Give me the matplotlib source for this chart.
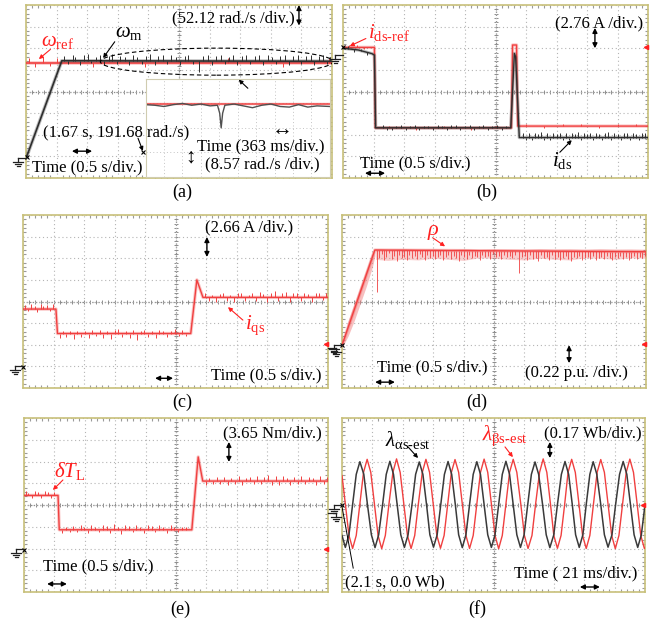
import numpy as np
import matplotlib
matplotlib.use('Agg')
import matplotlib.pyplot as plt
from matplotlib.patches import Ellipse
from matplotlib.lines import Line2D

plt.rcParams['font.family'] = ['Liberation Serif', 'DejaVu Sans']
plt.rcParams['mathtext.fontset'] = 'custom'
plt.rcParams['mathtext.rm'] = 'Liberation Serif'
plt.rcParams['mathtext.it'] = 'Liberation Serif:italic'
plt.rcParams['mathtext.bf'] = 'Liberation Serif:bold'

W, H = 668, 624
RED = '#ff2020'
TR_RED = '#f04040'
TR_BLK = '#2e2e2e'
FRAME = '#c8c07a'

# ---- scope readings, in screen divisions (10 x 8) ----

# (a) speed
speed_ref_t = [0.0, 10.0]
speed_ref = [5.33, 5.33]
speed_t = [0.02, 1.17, 10.0]
speed = [0.98, 5.42, 5.40]
speed_spikes = [(1.25, 0.22), (1.38, -0.15), (1.52, 0.28), (1.61, 0.18), (1.77, -0.2), (1.9, 0.25),
                (2.02, 0.3), (2.13, -0.12), (2.3, 0.2), (2.41, 0.27), (2.55, -0.18), (2.7, 0.22),
                (2.82, 0.3), (2.97, -0.15), (3.08, 0.24), (3.22, 0.2), (3.37, -0.2), (3.5, 0.28),
                (3.63, 0.18), (3.8, -0.15), (3.93, 0.25), (4.06, 0.3), (4.2, -0.2), (4.33, 0.22),
                (4.47, 0.26), (4.6, -0.12), (4.75, 0.28), (4.9, 0.2), (5.02, -0.18), (5.18, 0.25),
                (5.3, 0.3), (5.45, -0.15), (5.66, -0.5), (5.8, 0.22), (5.95, 0.27), (6.08, -0.2),
                (6.22, 0.24), (6.37, 0.3), (6.5, -0.15), (6.63, 0.2), (6.78, 0.28), (6.9, -0.18),
                (7.05, 0.25), (7.2, 0.3), (7.33, -0.12), (7.48, 0.22), (7.62, 0.27), (7.76, -0.2),
                (7.9, 0.3), (8.03, 0.2), (8.17, -0.15), (8.3, 0.26), (8.45, 0.3), (8.6, -0.2),
                (8.73, 0.22), (8.88, 0.28), (9.0, -0.15), (9.15, 0.25), (9.3, 0.3), (9.42, -0.18),
                (9.57, 0.22), (9.7, 0.28), (9.85, -0.15), (9.95, 0.2)]
speed_ref_spikes = [(0.1, 0.2), (0.3, -0.2), (0.55, 0.25), (0.8, -0.15), (1.0, 0.2),
                    (2.2, -0.2), (3.9, -0.2), (6.6, 0.2), (8.4, -0.18), (9.9, 0.2)]
# zoomed window (363 ms/div.)
zoom_t = [0.0, 0.5, 1.0, 1.5, 2.0, 2.5, 3.0, 3.5, 3.9, 4.02, 4.1, 4.18, 4.3, 4.8, 5.3,
          5.8, 6.3, 6.8, 7.3, 7.8, 8.3, 8.8, 9.3, 10.0]
zoom_speed = [5.9, 5.85, 5.75, 5.9, 6.0, 5.85, 5.95, 5.8, 5.85, 5.2, 4.0, 5.2, 5.85, 5.95,
              5.8, 5.65, 5.85, 5.95, 5.75, 5.7, 5.9, 5.7, 5.8, 5.75]
zoom_ref = [5.95, 5.95]

# (b) d-axis current
ids_ref_t = [0.0, 1.03, 1.06, 5.52, 5.56, 5.69, 5.73, 10.0]
ids_ref = [6.04, 6.04, 2.32, 2.32, 6.15, 6.15, 2.40, 2.40]
ids_t = [0.0, 0.5, 0.95, 1.03, 1.07, 5.50, 5.62, 5.66, 5.78, 10.0]
ids = [6.00, 5.92, 5.75, 5.68, 2.32, 2.32, 5.76, 5.60, 1.87, 1.87]
ids_spikes = [(0.15, 0.12), (0.35, -0.1), (0.6, 0.1), (0.8, -0.12), (1.3, 0.12), (1.45, -0.08),
              (1.6, -0.1), (1.75, 0.1), (1.9, 0.12), (2.05, -0.08), (2.2, 0.1), (2.35, 0.12),
              (2.5, -0.12), (2.65, 0.08), (2.8, 0.1), (2.95, -0.1), (3.1, 0.12), (3.25, 0.1),
              (3.4, -0.1), (3.55, 0.12), (3.7, 0.12), (3.85, -0.08), (4.0, 0.1), (4.15, 0.12),
              (4.3, -0.1), (4.45, 0.1), (4.6, 0.14), (4.75, -0.1), (4.9, 0.1), (5.05, 0.12),
              (5.2, -0.1), (5.35, 0.1),
              (5.9, 0.22), (6.0, -0.1), (6.1, 0.2), (6.2, -0.12), (6.3, 0.2), (6.4, 0.15),
              (6.5, 0.24), (6.6, -0.1), (6.7, 0.2), (6.8, -0.1), (6.9, 0.2), (7.0, 0.15),
              (7.1, 0.22), (7.2, -0.1), (7.3, 0.2), (7.4, -0.12), (7.5, 0.2), (7.6, 0.15),
              (7.7, 0.25), (7.8, -0.1), (7.9, 0.22), (8.0, 0.15), (8.1, 0.22), (8.2, -0.1),
              (8.3, 0.2), (8.4, 0.15), (8.5, -0.12), (8.6, 0.2), (8.7, 0.24), (8.8, -0.1),
              (8.9, 0.2), (9.0, 0.15), (9.1, -0.1), (9.2, 0.2), (9.3, 0.22), (9.4, -0.1),
              (9.5, 0.2), (9.6, 0.15), (9.7, -0.12), (9.8, 0.2), (9.9, 0.2)]
ids_ref_spikes = [(0.2, 0.1), (0.45, 0.12), (0.7, -0.08), (1.5, 0.1), (2.4, -0.08), (3.3, 0.1),
                  (4.2, -0.08), (5.0, 0.1), (6.0, 0.1), (6.6, -0.08), (7.2, 0.1), (7.8, 0.12),
                  (8.4, -0.08), (9.0, 0.1), (9.6, 0.1)]

# (c) q-axis current
iqs_t = [0.0, 1.08, 1.13, 5.50, 5.70, 5.90, 10.0]
iqs = [3.65, 3.65, 2.52, 2.52, 5.00, 4.19, 4.19]
iqs_spikes = [(0.06, 0.18), (0.17, -0.1), (0.26, 0.22), (0.38, 0.15), (0.47, -0.12), (0.58, 0.25),
              (0.66, 0.12), (0.78, 0.2), (0.88, -0.1), (0.98, 0.22),
              (1.2, -0.22), (1.32, 0.1), (1.41, -0.15), (1.55, 0.12), (1.66, -0.25), (1.78, 0.1),
              (1.9, -0.18), (2.02, 0.12), (2.15, -0.2), (2.26, 0.15), (2.4, -0.12), (2.52, 0.18),
              (2.63, -0.2), (2.77, 0.1), (2.9, -0.25), (3.02, 0.15), (3.13, 0.22), (3.26, -0.18),
              (3.38, 0.12), (3.5, -0.22), (3.61, 0.15), (3.74, -0.28), (3.86, 0.12), (3.98, 0.18),
              (4.1, -0.15), (4.22, 0.12), (4.35, -0.2), (4.47, 0.15), (4.6, 0.1), (4.72, -0.18),
              (4.85, 0.12), (4.97, 0.2), (5.1, -0.12), (5.22, 0.15), (5.35, -0.1),
              (5.98, 0.2), (6.1, -0.18), (6.2, 0.12), (6.33, -0.22), (6.45, 0.15), (6.56, 0.2),
              (6.68, -0.15), (6.8, 0.12), (6.92, -0.2), (7.04, 0.18), (7.15, 0.22), (7.28, -0.15),
              (7.4, 0.12), (7.52, 0.2), (7.64, -0.18), (7.76, 0.25), (7.88, 0.15), (8.0, -0.2),
              (8.12, 0.22), (8.25, 0.3), (8.37, -0.15), (8.5, 0.2), (8.62, 0.25), (8.74, -0.2),
              (8.86, 0.18), (8.98, 0.22), (9.1, -0.15), (9.22, 0.2), (9.35, 0.15), (9.47, -0.2),
              (9.6, 0.22), (9.72, 0.18), (9.84, -0.12), (9.95, 0.2)]

# (d) rho
rho_t = [0.0, 1.08, 10.0]
rho = [1.98, 6.38, 6.30]
rho_ramp_t = [0.0, 0.2, 0.4, 0.6, 0.8, 1.0, 1.08]
rho_ramp_lo = [1.85, 2.40, 3.10, 3.90, 4.70, 5.60, 6.10]
rho_ramp_hi = [2.10, 3.10, 3.90, 4.70, 5.50, 6.30, 6.45]
rho_band_t = [1.1, 1.5, 2.0, 2.5, 3.0, 3.5, 4.0, 4.5, 5.0, 5.5, 6.0, 6.5, 7.0, 7.5, 8.0, 8.5,
              9.0, 9.5, 10.0]
rho_band_lo = [5.95, 5.90, 5.95, 5.92, 6.00, 5.95, 5.90, 6.02, 6.00, 5.95, 5.92, 6.00, 5.95,
               5.92, 6.02, 6.00, 5.95, 6.02, 6.00]
rho_band_hi = [6.45, 6.42, 6.45, 6.43, 6.44, 6.42, 6.45, 6.42, 6.44, 6.43, 6.42, 6.45, 6.43,
               6.44, 6.42, 6.45, 6.43, 6.44, 6.42]
rho_spikes = [(1.14, -1.95), (1.22, -0.35), (1.3, -0.2), (1.38, -0.45), (1.46, -0.3), (1.55, -0.15),
              (1.63, -0.4), (1.71, -0.25), (1.8, -0.5), (1.88, -0.2), (1.96, -0.35), (2.05, -0.3),
              (2.13, -0.45), (2.22, -0.2), (2.3, -0.35), (2.39, -0.25), (2.47, -0.4), (2.56, -0.15),
              (2.64, -0.3), (2.73, -0.45), (2.81, -0.2), (2.9, -0.35), (2.98, -0.25), (3.07, -0.4),
              (3.15, -0.3), (3.24, -0.2), (3.32, -0.45), (3.41, -0.3), (3.5, -0.2), (3.58, -0.4),
              (3.67, -0.25), (3.75, -0.35), (3.84, -0.5), (3.92, -0.2), (4.01, -0.3), (4.1, -0.4),
              (4.18, -0.2), (4.27, -0.35), (4.36, -0.25), (4.45, -0.3), (4.53, -0.45), (4.62, -0.2),
              (4.71, -0.3), (4.8, -0.25), (4.88, -0.4), (4.97, -0.15), (5.06, -0.3), (5.15, -0.25),
              (5.24, -0.4), (5.33, -0.2), (5.42, -0.3), (5.51, -0.25), (5.6, -0.35), (5.7, -0.2),
              (5.83, -1.0), (5.92, -0.3), (6.01, -0.25), (6.1, -0.4), (6.19, -0.2), (6.28, -0.35),
              (6.37, -0.3), (6.46, -0.45), (6.55, -0.2), (6.64, -0.3), (6.73, -0.25), (6.82, -0.4),
              (6.91, -0.2), (7.0, -0.35), (7.09, -0.25), (7.18, -0.4), (7.27, -0.3), (7.36, -0.2),
              (7.45, -0.35), (7.54, -0.45), (7.63, -0.25), (7.72, -0.3), (7.81, -0.2), (7.9, -0.4),
              (7.99, -0.3), (8.08, -0.25), (8.17, -0.35), (8.26, -0.2), (8.35, -0.4), (8.44, -0.3),
              (8.53, -0.25), (8.62, -0.35), (8.71, -0.2), (8.8, -0.3), (8.89, -0.4), (8.98, -0.25),
              (9.07, -0.3), (9.16, -0.2), (9.25, -0.35), (9.34, -0.25), (9.43, -0.4), (9.52, -0.3),
              (9.61, -0.2), (9.7, -0.35), (9.79, -0.25), (9.88, -0.3), (9.96, -0.2)]

# (e) load torque estimate
dtl_t = [0.0, 1.12, 1.16, 5.52, 5.73, 5.88, 10.0]
dtl = [4.44, 4.44, 2.86, 2.86, 6.21, 5.10, 5.10]
dtl_spikes = [(0.05, 0.2), (0.14, 0.12), (0.25, -0.12), (0.36, 0.22), (0.45, 0.15), (0.57, -0.1),
              (0.68, 0.2), (0.79, 0.15), (0.9, -0.12), (1.0, 0.18),
              (1.25, -0.15), (1.37, 0.12), (1.5, -0.1), (1.62, 0.18), (1.73, -0.12), (1.86, 0.2),
              (1.97, 0.12), (2.1, -0.15), (2.22, 0.2), (2.35, 0.15), (2.47, -0.12), (2.6, 0.22),
              (2.72, 0.18), (2.84, -0.15), (2.96, 0.25), (3.08, 0.15), (3.2, -0.18), (3.33, 0.22),
              (3.45, 0.18), (3.57, -0.12), (3.7, 0.2), (3.82, 0.15), (3.95, -0.15), (4.07, 0.22),
              (4.2, 0.18), (4.32, -0.12), (4.45, 0.2), (4.58, 0.15), (4.7, -0.15), (4.83, 0.22),
              (4.95, 0.12), (5.08, -0.1), (5.2, 0.15), (5.33, 0.12),
              (5.98, -0.2), (6.1, 0.15), (6.22, -0.15), (6.34, 0.2), (6.46, -0.12), (6.58, 0.18),
              (6.7, -0.2), (6.82, 0.12), (6.94, -0.15), (7.06, 0.22), (7.18, -0.18), (7.3, 0.15),
              (7.42, 0.2), (7.55, -0.15), (7.67, 0.25), (7.79, -0.12), (7.91, 0.2), (8.03, 0.28),
              (8.15, -0.18), (8.28, 0.25), (8.4, -0.2), (8.52, 0.22), (8.64, 0.15), (8.76, -0.2),
              (8.88, 0.2), (9.0, -0.15), (9.12, 0.22), (9.25, -0.12), (9.37, 0.2), (9.5, 0.15),
              (9.62, -0.18), (9.74, 0.22), (9.86, -0.12), (9.96, 0.18)]

# (f) estimated stator flux, alpha / beta
flux_alpha = [(0.00, 2.60), (0.11, 2.05), (0.23, 2.63), (0.35, 4.02), (0.47, 5.41), (0.59, 5.99),
              (0.72, 5.41), (0.84, 4.02), (0.97, 2.63), (1.09, 2.04), (1.21, 2.63), (1.34, 4.02),
              (1.46, 5.41), (1.58, 6.01), (1.70, 5.41), (1.82, 4.02), (1.94, 2.63), (2.06, 2.05),
              (2.18, 2.63), (2.31, 4.02), (2.43, 5.41), (2.55, 5.98), (2.67, 5.41), (2.79, 4.02),
              (2.90, 2.63), (3.02, 2.06), (3.14, 2.63), (3.26, 4.02), (3.38, 5.41), (3.50, 6.00),
              (3.62, 5.41), (3.74, 4.02), (3.85, 2.63), (3.97, 2.04), (4.09, 2.63), (4.21, 4.02),
              (4.33, 5.41), (4.45, 5.99), (4.57, 5.41), (4.69, 4.02), (4.81, 2.63), (4.93, 2.05),
              (5.05, 2.63), (5.17, 4.02), (5.29, 5.41), (5.41, 6.01), (5.53, 5.41), (5.65, 4.02),
              (5.77, 2.63), (5.89, 2.05), (6.01, 2.63), (6.13, 4.02), (6.25, 5.41), (6.37, 5.98),
              (6.49, 5.41), (6.62, 4.02), (6.74, 2.63), (6.86, 2.04), (6.99, 2.63), (7.11, 4.02),
              (7.24, 5.41), (7.36, 6.00), (7.48, 5.41), (7.60, 4.02), (7.71, 2.63), (7.83, 2.05),
              (7.95, 2.63), (8.06, 4.02), (8.18, 5.41), (8.29, 5.99), (8.41, 5.41), (8.54, 4.02),
              (8.66, 2.63), (8.78, 2.06), (8.91, 2.63), (9.03, 4.02), (9.16, 5.41), (9.28, 6.00),
              (9.40, 5.41), (9.52, 4.02), (9.64, 2.63), (9.76, 2.05), (9.88, 2.63), (10.00, 4.02)]
flux_beta = [(0.00, 5.35), (0.11, 4.05), (0.23, 2.60), (0.35, 2.00), (0.47, 2.60), (0.59, 4.05),
             (0.71, 5.50), (0.83, 6.10), (0.95, 5.50), (1.07, 4.05), (1.19, 2.60), (1.31, 1.99),
             (1.43, 2.60), (1.55, 4.05), (1.68, 5.50), (1.80, 6.12), (1.92, 5.50), (2.04, 4.05),
             (2.16, 2.60), (2.28, 2.00), (2.40, 2.60), (2.52, 4.05), (2.65, 5.50), (2.77, 6.10),
             (2.89, 5.50), (3.01, 4.05), (3.13, 2.60), (3.25, 2.01), (3.37, 2.60), (3.49, 4.05),
             (3.61, 5.50), (3.73, 6.09), (3.85, 5.50), (3.97, 4.05), (4.09, 2.60), (4.21, 2.00),
             (4.33, 2.60), (4.45, 4.05), (4.57, 5.50), (4.69, 6.11), (4.81, 5.50), (4.93, 4.05),
             (5.05, 2.60), (5.17, 1.99), (5.29, 2.60), (5.41, 4.05), (5.53, 5.50), (5.65, 6.10),
             (5.77, 5.50), (5.90, 4.05), (6.02, 2.60), (6.14, 2.00), (6.27, 2.60), (6.39, 4.05),
             (6.52, 5.50), (6.64, 6.12), (6.76, 5.50), (6.88, 4.05), (6.99, 2.60), (7.11, 2.01),
             (7.23, 2.60), (7.35, 4.05), (7.46, 5.50), (7.58, 6.10), (7.70, 5.50), (7.82, 4.05),
             (7.94, 2.60), (8.06, 2.00), (8.18, 2.60), (8.30, 4.05), (8.42, 5.50), (8.54, 6.09),
             (8.66, 5.50), (8.78, 4.05), (8.90, 2.60), (9.02, 1.99), (9.14, 2.60), (9.26, 4.05),
             (9.38, 5.50), (9.50, 6.11), (9.62, 5.50), (9.74, 4.05), (9.86, 2.60), (9.98, 2.00),
             (10.00, 2.01)]


def scope_axes(fig, rect):
    ax = fig.add_axes(rect)
    ax.set_xlim(0, 10)
    ax.set_ylim(0, 8)
    ax.set_xticks(range(11))
    ax.set_yticks(range(9))
    ax.set_xticks(np.arange(0, 10.01, 0.2), minor=True)
    ax.set_yticks(np.arange(0, 8.01, 0.2), minor=True)
    ax.tick_params(which='both', direction='in', top=True, right=True,
                   labelbottom=False, labelleft=False, color='#9a9a9a')
    ax.tick_params(which='major', length=0)
    ax.tick_params(which='minor', length=2.2, width=0.8)
    ax.grid(True, which='major', ls=(0, (1, 2.5)), color='#b4b4b4', lw=0.8)
    for s in ax.spines.values():
        s.set_color(FRAME)
        s.set_linewidth(1.2)
    # centre cross with its fine graduation
    ax.axvline(5, color='#8c8c8c', lw=0.9, ls=(0, (1, 1.5)), zorder=1)
    ax.axhline(4, color='#8c8c8c', lw=0.9, ls=(0, (1, 1.5)), zorder=1)
    gx = np.arange(0.2, 10, 0.2)
    gy = np.arange(0.2, 8, 0.2)
    ax.plot(gx, np.full(gx.size, 4.0), '|', color='#8c8c8c', ms=3.2, mew=0.7, zorder=1)
    ax.plot(np.full(gy.size, 5.0), gy, '_', color='#8c8c8c', ms=3.2, mew=0.7, zorder=1)
    return ax


def trace(ax, t, y, color, lw=1.0, spikes=None, zorder=3, spike_lw=0.7):
    ax.plot(t, y, color=color, lw=lw + 1.4, alpha=0.3, zorder=zorder, solid_capstyle='butt')
    ax.plot(t, y, color=color, lw=lw, zorder=zorder)
    if spikes:
        st, sd = zip(*spikes)
        base = np.interp(st, t, y)
        ax.vlines(st, base, base + np.array(sd), color=color, lw=spike_lw, zorder=zorder)


def note(ax, x, y, s, ha='left', color='k', size=12, zorder=7):
    ax.text(x, y, s, ha=ha, va='center', color=color, fontsize=size, zorder=zorder)


def span(ax, x0, y0, x1, y1):
    ax.annotate('', xy=(x1, y1), xytext=(x0, y0), annotation_clip=False, zorder=7,
                arrowprops=dict(arrowstyle='<|-|>', color='k', lw=1.0, mutation_scale=7,
                                shrinkA=0, shrinkB=0))


def pointer(ax, x0, y0, x1, y1, color='k'):
    ax.annotate('', xy=(x1, y1), xytext=(x0, y0), annotation_clip=False, zorder=7,
                arrowprops=dict(arrowstyle='-|>', color=color, lw=0.8, mutation_scale=6,
                                shrinkA=0, shrinkB=0))


def ground(fig, px, py, flip=False):
    # probe ground mark, given in pixel position of the figure
    s = -1 if flip else 1
    segs = [((px, px + s * 8), (py, py)), ((px, px), (py, py + 4)),
            ((px - 5, px + 5), (py + 4, py + 4)), ((px - 3.3, px + 3.3), (py + 6, py + 6)),
            ((px - 1.5, px + 1.5), (py + 8, py + 8))]
    for xs, ys in segs:
        fig.add_artist(Line2D([x / W for x in xs], [1 - y / H for y in ys],
                              color='#202020', lw=0.9))


def level_mark(ax, y):
    ax.plot(9.93, y, marker='<', color=RED, ms=3, zorder=6, clip_on=False)


fig = plt.figure(figsize=(W / 100, H / 100), dpi=100)

# ---------------- (a) ----------------
ax = scope_axes(fig, [26 / W, 1 - 178 / H, 306 / W, 173 / H])
trace(ax, speed_ref_t, speed_ref, TR_RED, lw=1.2, spikes=speed_ref_spikes)
trace(ax, speed_t, speed, TR_BLK, lw=1.2, spikes=speed_spikes, zorder=4)
ax.add_patch(Ellipse((6.23, 5.38), 7.6, 1.25, fill=False, ls=(0, (4, 2.5)), lw=0.8,
                     color='k', zorder=5))
ins = ax.inset_axes([0.391, 0.008, 0.602, 0.564])
ins.set_xlim(0, 10)
ins.set_ylim(0, 8)
ins.set_xticks(range(11))
ins.set_yticks(range(0, 9, 2))
ins.tick_params(length=0, labelbottom=False, labelleft=False)
ins.grid(True, ls=(0, (1, 2.5)), color='#c4c4c4', lw=0.7)
for s in ins.spines.values():
    s.set_color('#d0ccb0')
ins.plot([0, 10], zoom_ref, color=TR_RED, lw=1.6, alpha=0.8)
ins.plot(zoom_t, zoom_speed, color='#505050', lw=1.0)
note(ax, 8.79, 7.4, '(52.12 rad./s /div.)', ha='right')
span(ax, 8.92, 8.0, 8.92, 7.05)
note(ax, 0.50, 6.3, r'$\omega_{\rm ref}$', color=RED, size=15)
pointer(ax, 0.8, 5.95, 0.42, 5.5, color=RED)
note(ax, 2.92, 6.75, r'$\omega_{\rm m}$', size=15)
pointer(ax, 2.9, 6.3, 2.52, 5.55)
note(ax, 0.56, 2.12, '(1.67 s, 191.68 rad./s)')
pointer(ax, 3.66, 1.84, 3.82, 1.25)
ax.plot(3.82, 1.2, 'x', color='k', ms=3.5, mew=0.8, zorder=6)
ax.plot(0.02, 0.98, 'x', color='k', ms=3.5, mew=0.8, zorder=6, clip_on=False)
span(ax, 1.5, 1.24, 2.16, 1.24)
note(ax, 0.2, 0.5, 'Time (0.5 s/div.)')
pointer(ax, 7.25, 4.15, 6.95, 4.55)
note(ax, 8.37, 2.21, '\u2194', ha='center', size=15)
note(ax, 7.68, 1.47, 'Time (363 ms/div.)', ha='center')
note(ax, 5.36, 0.92, '\u2195', ha='center', size=15)
note(ax, 7.71, 0.64, '(8.57 rad./s /div.)', ha='center')

# ---------------- (b) ----------------
ax = scope_axes(fig, [343 / W, 1 - 178 / H, 305 / W, 173 / H])
trace(ax, ids_ref_t, ids_ref, TR_RED, spikes=ids_ref_spikes)
trace(ax, ids_t, ids, TR_BLK, spikes=ids_spikes, zorder=4)
ax.plot(0.0, 6.04, 'x', color='k', ms=3.5, mew=0.8, zorder=6, clip_on=False)
note(ax, 0.82, 6.75, r'$i_{\text{ds-ref}}$', color=RED, size=15)
pointer(ax, 0.75, 6.45, 0.22, 6.1, color=RED)
note(ax, 9.84, 7.17, '(2.76 A /div.)', ha='right')
span(ax, 8.26, 6.94, 8.26, 6.0)
note(ax, 0.56, 0.69, 'Time (0.5 s/div.)')
span(ax, 0.72, 0.22, 1.38, 0.22)
note(ax, 6.85, 0.8, r'$i_{\rm ds}$', size=15)
pointer(ax, 7.11, 1.19, 7.5, 1.75)
level_mark(ax, 6.06)

# ---------------- (c) ----------------
ax = scope_axes(fig, [23 / W, 1 - 388 / H, 305 / W, 173 / H])
trace(ax, iqs_t, iqs, TR_RED, spikes=iqs_spikes)
ax.plot(0.0, 0.95, 'x', color='k', ms=3.5, mew=0.8, zorder=6, clip_on=False)
note(ax, 5.97, 7.44, '(2.66 A /div.)')
span(ax, 6.03, 6.98, 6.03, 6.06)
note(ax, 7.28, 2.9, r'$i_{\rm qs}$', color=RED, size=15)
pointer(ax, 7.21, 3.14, 6.72, 3.74, color=RED)
note(ax, 9.8, 0.59, 'Time (0.5 s/div.)', ha='right')
span(ax, 4.33, 0.45, 4.92, 0.45)
level_mark(ax, 2.03)

# ---------------- (d) ----------------
ax = scope_axes(fig, [342 / W, 1 - 388 / H, 304 / W, 173 / H])
ax.fill_between(rho_ramp_t, rho_ramp_lo, rho_ramp_hi, color='#f08080', alpha=0.5, lw=0, zorder=3)
ax.fill_between(rho_band_t, rho_band_lo, rho_band_hi, color='#f08080', alpha=0.38, lw=0, zorder=3)
trace(ax, rho_t, rho, TR_RED, spikes=rho_spikes, spike_lw=0.6)
ax.plot(0.0, 1.98, 'x', color='k', ms=3.5, mew=0.8, zorder=6, clip_on=False)
note(ax, 2.8, 7.17, r'$\rho$', color=RED, size=16)
pointer(ax, 2.99, 6.94, 3.39, 6.55, color=RED)
note(ax, 1.15, 0.96, 'Time (0.5 s/div.)')
span(ax, 1.09, 0.27, 1.74, 0.27)
note(ax, 6.02, 0.69, '(0.22 p.u. /div.)')
span(ax, 7.47, 1.98, 7.47, 1.15)
level_mark(ax, 2.03)

# ---------------- (e) ----------------
ax = scope_axes(fig, [24 / W, 1 - 592 / H, 304 / W, 174 / H])
trace(ax, dtl_t, dtl, TR_RED, spikes=dtl_spikes)
ax.plot(0.0, 1.95, 'x', color='k', ms=3.5, mew=0.8, zorder=6, clip_on=False)
note(ax, 1.0, 5.55, r'$\delta T_{\rm L}$', color=RED, size=15)
pointer(ax, 1.28, 5.15, 0.95, 4.69, color=RED)
note(ax, 9.8, 7.31, '(3.65 Nm/div.)', ha='right')
span(ax, 6.74, 6.9, 6.74, 5.98)
note(ax, 0.62, 1.2, 'Time (0.5 s/div.)')
span(ax, 0.76, 0.37, 1.41, 0.37)
level_mark(ax, 2.0)

# ---------------- (f) ----------------
ax = scope_axes(fig, [342 / W, 1 - 592 / H, 303 / W, 174 / H])
ft, fa = zip(*flux_alpha)
fb_t, fb = zip(*flux_beta)
ax.plot(fb_t, fb, color=TR_RED, lw=1.0, zorder=3)
ax.plot(ft, fa, color='#3a3a3a', lw=1.1, zorder=4)
ax.plot(0.0, 4.0, 'x', color='k', ms=3.5, mew=0.8, zorder=6, clip_on=False)
note(ax, 1.42, 6.99, r'$\lambda_{\text{αs-est}}$', size=15)
pointer(ax, 2.18, 6.67, 2.51, 6.16)
note(ax, 4.62, 7.2, r'$\lambda_{\text{βs-est}}$', color=RED, size=15)
pointer(ax, 5.38, 6.67, 5.64, 6.2, color=RED)
note(ax, 9.9, 7.31, '(0.17 Wb/div.)', ha='right')
span(ax, 6.86, 6.9, 6.86, 6.16)
note(ax, 9.74, 0.87, 'Time ( 21 ms/div.)', ha='right')
span(ax, 7.85, 0.23, 8.51, 0.23)
note(ax, 0.1, 0.46, '(2.1 s, 0.0 Wb)')
ax.plot([0.37, 0.0], [1.1, 3.92], color='k', lw=0.7, zorder=6)
level_mark(ax, 4.0)

# probe ground marks
for gx, gy, fl in [(18, 158, False), (335, 55, False), (15, 366, False), (336, 348, True),
                   (334, 345, False), (16, 549, False), (336, 513, True), (334, 505, False)]:
    ground(fig, gx, gy, fl)

for lab, px, py in [('(a)', 182, 192), ('(b)', 487, 192), ('(c)', 182, 402),
                    ('(d)', 477, 402), ('(e)', 180, 609), ('(f)', 477, 609)]:
    fig.text(px / W, 1 - py / H, lab, ha='center', va='center', fontsize=13)

fig.savefig('out.png', dpi=100)
